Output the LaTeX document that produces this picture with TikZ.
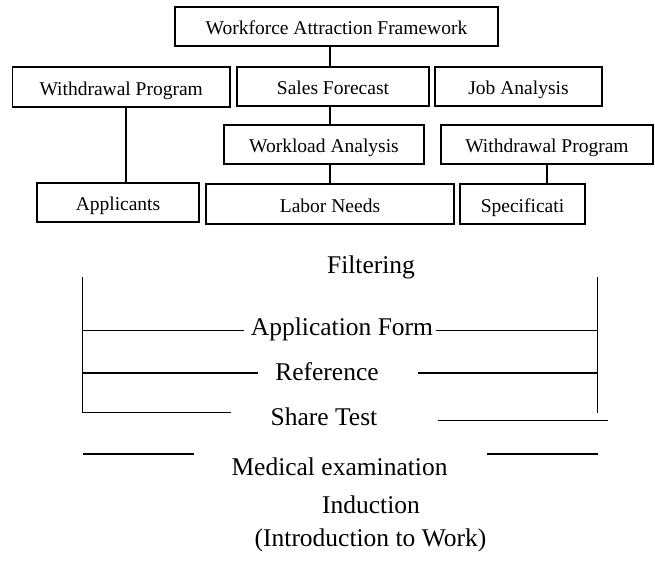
\documentclass[tikz,border=0pt]{standalone}
\usepackage{fontspec}
\setmainfont{Liberation Serif}
\begin{document}
\begin{tikzpicture}[x=1pt,y=-1pt,
  box/.style={draw,line width=1.1pt,inner sep=0pt,text height=16pt,text depth=0pt,font=\fontsize{19.5}{22}\selectfont},
  big/.style={inner sep=0pt,anchor=base,font=\fontsize{25.5}{29}\selectfont},
  ln/.style={line width=1.1pt}]
\useasboundingbox (0,0) rectangle (655,565);
% boxes
\node[box,minimum width=323pt,minimum height=39pt] (top) at (336.5,26.5) {Workforce Attraction Framework};
\node[box,minimum width=217.5pt,minimum height=40pt] (wpl) at (121.25,87) {Withdrawal Program};
\node[box,minimum width=192pt,minimum height=39pt] (sf) at (333,86.5) {Sales Forecast};
\node[box,minimum width=167pt,minimum height=39pt] (ja) at (518.5,86.5) {Job Analysis};
\node[box,minimum width=200pt,minimum height=39pt] (wa) at (324,144.5) {Workload Analysis};
\node[box,minimum width=212pt,minimum height=39pt] (wpr) at (547,144.5) {Withdrawal Program};
\node[box,minimum width=162pt,minimum height=39pt] (app) at (118,202.5) {Applicants};
\node[box,minimum width=248pt,minimum height=40pt] (ln) at (330,204) {Labor Needs};
\node[box,minimum width=125pt,minimum height=40pt] (spec) at (522.5,204) {Specificati};
% connectors
\draw[ln] (top.south -| 330,0) -- (sf.north -| 330,0);
\draw[ln] (sf.south -| 330,0) -- (wa.north -| 330,0);
\draw[ln] (wa.south -| 330,0) -- (ln.north -| 330,0);
\draw[ln] (wpl.south -| 126,0) -- (app.north -| 126,0);
\draw[ln] (wpr.south -| 547,0) -- (spec.north -| 547,0);
% lower texts
\node[big] (filt) at (371,273.5) {Filtering};
\node[big] (af) at (342,335) {Application Form};
\node[big] (ref) at (327,380.7) {Reference};
\node[big] (st) at (324,425) {Share Test};
\node[big] (med) at (339.5,475) {Medical examination};
\node[big] (ind) at (371,513) {Induction};
\node[big] (intro) at (370.5,546) {(Introduction to Work)};
% lines
\coordinate (LT) at (82.5,277);
\coordinate (LB) at (82.5,413);
\coordinate (RT) at (597.5,277);
\coordinate (RB) at (597.5,413);
\draw[ln] (LT) -- (LB);
\draw[ln] (RT) -- (RB);
\coordinate (a1) at (82.5,330.7); \coordinate (a2) at (244,330.7);
\coordinate (a3) at (436,330.7); \coordinate (a4) at (597.5,330.7);
\draw[ln] (a1) -- (a2); \draw[ln] (a3) -- (a4);
\coordinate (r1) at (82.5,373); \coordinate (r2) at (258,373);
\coordinate (r3) at (418,373); \coordinate (r4) at (597.5,373);
\draw[ln] (r1) -- (r2); \draw[ln] (r3) -- (r4);
\coordinate (s1) at (82.5,412.7); \coordinate (s2) at (231,412.7);
\coordinate (s3) at (437.5,420.7); \coordinate (s4) at (607.5,420.7);
\draw[ln] (s1) -- (s2); \draw[ln] (s3) -- (s4);
\coordinate (m1) at (83,454); \coordinate (m2) at (194,454);
\coordinate (m3) at (487,454); \coordinate (m4) at (597.5,454);
\draw[ln] (m1) -- (m2); \draw[ln] (m3) -- (m4);
\end{tikzpicture}
\end{document}
